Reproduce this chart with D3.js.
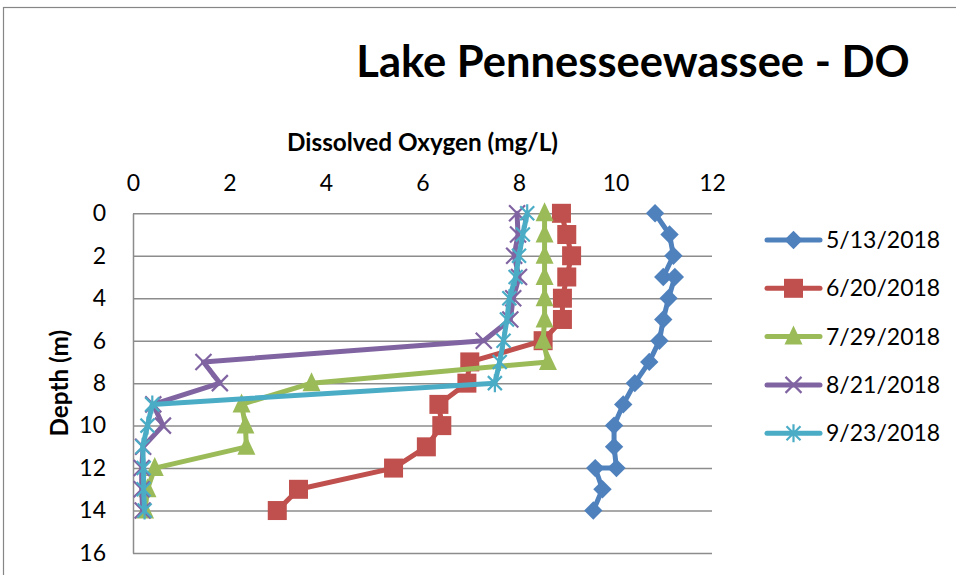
<!DOCTYPE html>
<html>
<head>
<meta charset="utf-8">
<script src="https://cdn.jsdelivr.net/npm/d3@7"></script>
<style>
  body { margin: 0; background: #fff; }
  svg { display: block; }
</style>
</head>
<body>
<svg id="chart" width="956" height="575"></svg>
<script>
// Dissolved oxygen profiles, Lake Pennesseewassee, 2018 sampling dates
const seriesNames = ["5/13/2018", "6/20/2018", "7/29/2018", "8/21/2018", "9/23/2018"];

const depthsMay = [0, 1, 2, 3, 3, 4, 5, 6, 7, 8, 9, 10, 11, 12, 12, 13, 14];
const doMay     = [10.82, 11.12, 11.2, 10.99, 11.23, 11.1, 10.99, 10.91, 10.7, 10.4, 10.16, 9.97, 9.97, 10.02, 9.58, 9.73, 9.54];

const depthsJun = [0, 1, 2, 3, 4, 5, 6, 7, 8, 9, 10, 11, 12, 13, 14];
const doJun     = [8.88, 8.99, 9.09, 8.99, 8.9, 8.9, 8.5, 6.98, 6.92, 6.34, 6.4, 6.08, 5.4, 3.43, 2.99];

const depthsJul = [0, 1, 2, 3, 4, 5, 6, 7, 8, 9, 10, 11, 12, 13, 14];
const doJul     = [8.53, 8.53, 8.53, 8.53, 8.53, 8.53, 8.5, 8.6, 3.7, 2.25, 2.33, 2.35, 0.45, 0.3, 0.25];

const depthsAug = [0, 1, 2, 3, 4, 5, 6, 7, 8, 9, 10, 11, 12, 13, 14];
const doAug     = [7.96, 7.98, 7.9, 8.0, 7.88, 7.82, 7.27, 1.46, 1.8, 0.42, 0.62, 0.21, 0.18, 0.18, 0.2];

const depthsSep = [0, 1, 2, 3, 4, 5, 6, 7, 8, 9, 10, 11, 12, 13, 14];
const doSep     = [8.17, 8.08, 8.0, 7.93, 7.8, 7.75, 7.68, 7.6, 7.5, 0.4, 0.3, 0.2, 0.22, 0.22, 0.24];

const xTicks = [0, 2, 4, 6, 8, 10, 12];
const yTicks = [0, 2, 4, 6, 8, 10, 12, 14, 16];

const colors  = ["#4F81BD", "#C0504D", "#9BBB59", "#8064A2", "#4BACC6"];
const markers = ["diamond", "square", "triangle", "cross", "star"];

const series = seriesNames.map((name, i) => {
  const depths = [depthsMay, depthsJun, depthsJul, depthsAug, depthsSep][i];
  const vals   = [doMay, doJun, doJul, doAug, doSep][i];
  return { name, color: colors[i], marker: markers[i],
           points: depths.map((d, k) => ({ depth: d, value: vals[k] })) };
});

const FONT = "Lato, 'Open Sans', sans-serif";
const svg = d3.select("#chart");

// chart frame
svg.append("rect")
  .attr("x", 3.5).attr("y", 7.5)
  .attr("width", 1200).attr("height", 1200)
  .attr("fill", "#fff").attr("stroke", "#868686").attr("stroke-width", 1.2);

const plot = { left: 133, right: 712, top: 213.3, bottom: 553 };

const x = d3.scaleLinear().domain([0, 12]).range([plot.left, plot.right]);
const y = d3.scaleLinear().domain([0, 16]).range([plot.top, plot.bottom]);

// horizontal gridlines + depth labels
const yAxis = svg.append("g")
  .attr("transform", `translate(${plot.left},0)`)
  .call(d3.axisLeft(y).tickValues(yTicks)
    .tickSizeInner(-(plot.right - plot.left)).tickSizeOuter(0).tickPadding(27));
yAxis.selectAll(".tick line").attr("stroke", "#8c8c8c").attr("stroke-width", 1.5);
yAxis.select(".domain").attr("stroke", "#8c8c8c").attr("stroke-width", 1.5);
yAxis.selectAll(".tick text")
  .attr("font-family", FONT).attr("font-size", 23).attr("fill", "#000");

// oxygen labels across the top
const xAxis = svg.append("g")
  .attr("transform", `translate(0,${plot.top})`)
  .call(d3.axisTop(x).tickValues(xTicks).tickSize(0).tickPadding(22));
xAxis.select(".domain").remove();
xAxis.selectAll(".tick text")
  .attr("font-family", FONT).attr("font-size", 23).attr("fill", "#000");

// titles
svg.append("text")
  .attr("x", 633).attr("y", 77)
  .attr("text-anchor", "middle")
  .attr("font-family", FONT).attr("font-weight", "bold").attr("font-size", 43.5)
  .text("Lake Pennesseewassee - DO");

svg.append("text")
  .attr("x", (plot.left + plot.right) / 2).attr("y", 151)
  .attr("text-anchor", "middle")
  .attr("font-family", FONT).attr("font-weight", "bold").attr("font-size", 24.3)
  .text("Dissolved Oxygen (mg/L)");

svg.append("text")
  .attr("transform", `translate(68,${(plot.top + plot.bottom) / 2}) rotate(-90)`)
  .attr("text-anchor", "middle")
  .attr("font-family", FONT).attr("font-weight", "bold").attr("font-size", 24.3)
  .text("Depth (m)");

// marker drawing
function drawMarker(g, type, color) {
  if (type === "diamond") {
    g.append("rect").attr("x", -6.5).attr("y", -6.5).attr("width", 13).attr("height", 13)
      .attr("transform", "rotate(45)").attr("fill", color);
  } else if (type === "square") {
    g.append("rect").attr("x", -9.5).attr("y", -9.5).attr("width", 19).attr("height", 19)
      .attr("fill", color);
  } else if (type === "triangle") {
    g.append("path").attr("d", "M0,-11 L9,8 L-9,8 Z").attr("fill", color);
  } else if (type === "cross") {
    g.append("path").attr("d", "M-8,-8 L8,8 M-8,8 L8,-8")
      .attr("stroke", color).attr("stroke-width", 2.2).attr("fill", "none");
  } else if (type === "star") {
    g.append("path").attr("d", "M-7,-7 L7,7 M-7,7 L7,-7 M0,-9 L0,9")
      .attr("stroke", color).attr("stroke-width", 2.2).attr("fill", "none");
  }
}

const line = d3.line().x(d => x(d.value)).y(d => y(d.depth));

series.forEach(s => {
  const g = svg.append("g");
  g.append("path").datum(s.points)
    .attr("d", line).attr("fill", "none")
    .attr("stroke", s.color).attr("stroke-width", 5)
    .attr("stroke-linejoin", "round").attr("stroke-linecap", "round");
  g.selectAll("g.pt").data(s.points).join("g")
    .attr("class", "pt")
    .attr("transform", d => `translate(${x(d.value)},${y(d.depth)})`)
    .each(function () { drawMarker(d3.select(this), s.marker, s.color); });
});

// legend
const legend = svg.append("g");
series.forEach((s, i) => {
  const cy = 240 + i * 48.3;
  const row = legend.append("g").attr("transform", `translate(0,${cy})`);
  row.append("line").attr("x1", 767).attr("x2", 820).attr("y1", 0).attr("y2", 0)
    .attr("stroke", s.color).attr("stroke-width", 5).attr("stroke-linecap", "round");
  drawMarker(row.append("g").attr("transform", "translate(793.5,0)"), s.marker, s.color);
  row.append("text").attr("x", 826).attr("y", 0).attr("dy", "0.35em")
    .attr("font-family", FONT).attr("font-size", 23).attr("fill", "#000")
    .text(s.name);
});
</script>
</body>
</html>
